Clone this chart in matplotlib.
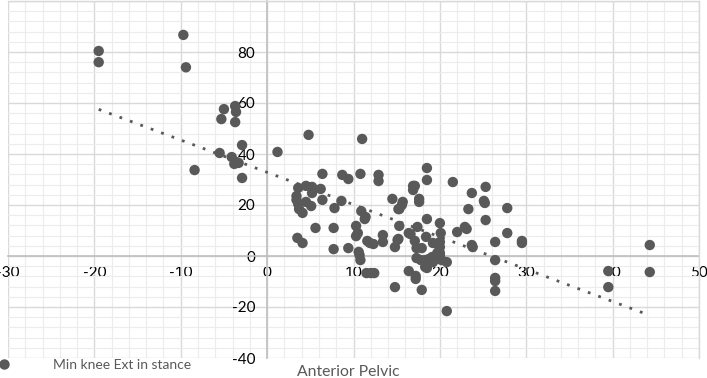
import numpy as np
import matplotlib
matplotlib.use("Agg")
import matplotlib.pyplot as plt
from matplotlib.ticker import MultipleLocator
from matplotlib.lines import Line2D

# ---- data ----
anterior_pelvic = [
    -19.5, -19.5, -9.7, -9.4, -8.4,
    -5.0, -3.7, -3.6, -5.3, -3.7,
    -2.9, -5.5, -4.1, -3.6, -3.3, -3.8, -2.9,
    1.2, 4.8, 11.0,
    6.4, 8.7, 9.4, 10.8, 12.9, 12.9,
    3.6, 4.5, 5.2, 6.2, 5.2,
    3.4, 3.4, 3.6, 4.5, 5.1, 3.7, 4.1,
    6.4, 8.6, 7.8, 14.5, 10.9, 11.4, 15.2,
    5.6, 7.7, 3.5, 4.1, 7.7, 9.4,
    10.3, 10.5, 10.3, 11.3,
    10.6, 10.7, 10.8,
    11.6, 11.9, 12.3, 13.4, 13.4, 14.8, 15.1,
    11.5, 12.0, 12.4, 14.8,
    18.5, 18.5, 21.5, 16.9, 17.1, 16.9, 23.7, 25.3,
    15.7, 15.6, 15.3, 17.6, 17.6, 25.1, 25.2, 23.3, 27.8,
    18.5, 20.0, 25.3, 15.3, 17.4, 16.4, 16.6, 20.1,
    22.0, 22.9, 23.1, 27.8, 15.2, 17.1, 17.3, 17.9, 18.4,
    19.2, 19.7, 20.0, 20.0, 20.0, 23.7, 23.8, 26.4, 29.5, 29.5,
    17.3, 17.8, 18.3, 18.7, 19.1, 19.2, 19.7, 20.0, 20.2, 20.8,
    18.3, 18.5, 16.4, 17.2, 17.2, 17.9, 20.8,
    26.4, 26.4, 26.4, 26.4,
    39.5, 39.5, 44.3, 44.3,
]
min_knee_ext = [
    80.4, 76.0, 86.7, 74.0, 33.7,
    57.6, 58.8, 56.5, 53.7, 52.5,
    43.5, 40.4, 38.8, 36.9, 36.5, 36.1, 30.6,
    40.8, 47.5, 45.9,
    32.2, 31.8, 30.2, 32.2, 31.8, 29.4,
    26.7, 27.5, 27.1, 26.3, 24.7,
    23.5, 22.0, 20.4, 21.2, 19.6, 18.4, 16.9,
    22.0, 21.6, 18.8, 22.4, 17.6, 15.3, 18.4,
    11.0, 11.0, 7.1, 5.1, 2.7, 3.1,
    11.8, 9.0, 7.8, 14.5,
    1.6, 0.4, -1.6,
    5.9, 5.1, 4.7, 8.2, 5.5, 3.5, 6.3,
    -6.7, -6.7, -6.7, -12.2,
    34.5, 29.8, 29.0, 27.5, 27.5, 25.9, 24.7, 27.1,
    21.2, 20.0, 18.4, 22.4, 21.2, 21.6, 20.8, 18.4, 18.8,
    14.5, 12.9, 14.1, 11.8, 11.4, 9.0, 8.6, 9.0,
    9.4, 11.4, 10.6, 9.0, 6.7, 5.9, 3.1, 3.1, 7.5,
    5.1, 4.7, 5.5, 3.5, 1.2, 4.3, 3.5, 5.5, 5.9, 5.1,
    -0.8, -1.6, -1.6, -1.2, -0.4, -2.4, 1.2, 0.4, -1.6, -2.4,
    -4.3, -4.7, -5.9, -7.8, -9.0, -13.3, -21.6,
    -1.6, -8.6, -9.8, -13.7,
    -5.9, -12.2, 4.3, -6.3,
]
x_ticks = [-30, -20, -10, 0, 10, 20, 30, 40, 50]
y_ticks = [-40, -20, 0, 20, 40, 60, 80, 100]
y_tick_labels = ["-40", "-20", "0", "20", "40", "60", "80", ""]
series_name = "Min knee Ext in stance"
x_title = "Anterior Pelvic"

plt.rcParams['font.family'] = ['Lato', 'DejaVu Sans']

W, H = 707, 378
fig = plt.figure(figsize=(W / 100, H / 100), dpi=100)
ax = fig.add_axes([8 / W, (H - 358) / H, (699 - 8) / W, (358 - 1) / H])

ax.set_xlim(-30, 50)
ax.set_ylim(-40, 100)
ax.set_xticks(x_ticks)
ax.set_xticklabels([str(v) for v in x_ticks])
ax.set_yticks(y_ticks)
ax.set_yticklabels(y_tick_labels)
ax.xaxis.set_minor_locator(MultipleLocator(2))
ax.yaxis.set_minor_locator(MultipleLocator(4))

ax.grid(which='major', color='#d9d9d9', linewidth=1.0, zorder=0)
ax.grid(which='minor', color='#ececec', linewidth=0.8, zorder=0)
ax.set_axisbelow(True)

ax.spines['left'].set_position(('data', 0))
ax.spines['bottom'].set_position(('data', 0))
for s in ['left', 'bottom']:
    ax.spines[s].set_color('#bfbfbf')
    ax.spines[s].set_linewidth(1.2)
    ax.spines[s].set_zorder(1)
for s in ['top', 'right']:
    ax.spines[s].set_color('#d9d9d9')
    ax.spines[s].set_linewidth(1.0)

ax.tick_params(which='both', length=0)
ax.tick_params(axis='y', pad=8.5, labelsize=11, labelcolor='#000000')
ax.tick_params(axis='x', pad=7, labelsize=11, labelcolor='#000000')

xs = np.array(anterior_pelvic)
ys = np.array(min_knee_ext)
ax.scatter(xs, ys, s=56, color='#595959', edgecolors='none', zorder=3, clip_on=False)

# linear trendline
m, b = np.polyfit(xs, ys, 1)
tx = np.array([xs.min(), xs.max()])
ax.plot(tx, m * tx + b, color='#595959', linewidth=2.0,
        linestyle=(0, (1, 3.0)), zorder=2)

# legend and axis title
handle = Line2D([], [], marker='o', linestyle='none', color='#595959',
                markersize=7.5, markeredgewidth=0)
fig.legend([handle], [series_name], loc='center left',
           bbox_to_anchor=(-0.004, 1 - 365 / H), frameon=False,
           handletextpad=3.0, fontsize=10, labelcolor='#595959',
           handlelength=1.0, borderaxespad=0, borderpad=0)
fig.text(348 / W, 1 - 372 / H, x_title, ha='center', va='center',
         fontsize=11.3, color='#595959')

fig.savefig('out.png', dpi=100)
